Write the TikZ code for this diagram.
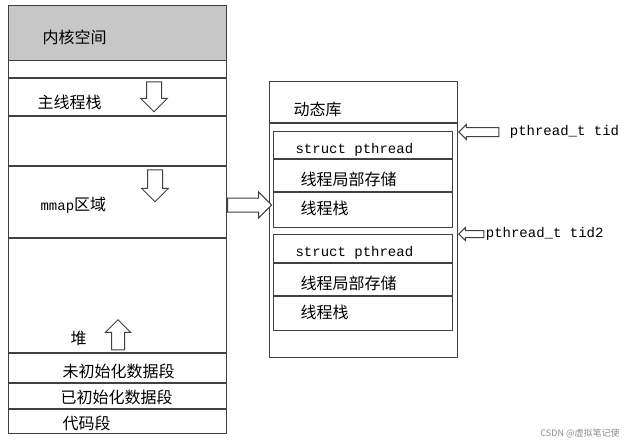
\documentclass[tikz,border=0pt]{standalone}
\usepackage{fontspec}
\setmainfont{Noto Sans CJK SC}
\setmonofont{Liberation Mono}
\usetikzlibrary{shapes.arrows, positioning}

\begin{document}
\begin{tikzpicture}[x=1pt, y=-1pt, line width=1.1pt,
    box/.style={draw=black!75, anchor=north west, inner sep=0pt},
    lbl/.style={anchor=west, inner sep=0pt, font=\fontsize{16}{18}\selectfont},
    code/.style={anchor=west, inner sep=0pt, font=\ttfamily\fontsize{14}{16}\selectfont},
    hollow/.style={single arrow, draw=black!75, fill=white, line width=1pt, inner sep=7pt,
        single arrow head extend=6pt}]
    \useasboundingbox (0,0) rectangle (643,445);
    % process address space
    \node[box, fill=black!22, minimum width=218pt, minimum height=55pt] (kernel) at (8,5) {};
    \node[box, minimum width=218pt, minimum height=428pt] (vm) at (8,5) {};
    \foreach \y in {78,116,166,238,353,383,409}
        \draw[black!75] (vm.west |- 0,\y) -- (vm.east |- 0,\y);
    \node[lbl] (k_txt) at (42,37) {内核空间};
    \node[lbl] (stack) at (37,102) {主线程栈};
    \node[lbl] (mmap) at (40,205) {{\ttfamily\fontsize{14}{16}\selectfont mmap}区域};
    \node[lbl] (heap) at (70,338) {堆};
    \node[lbl] (bss) at (62,371) {未初始化数据段};
    \node[lbl] (data) at (60,397) {已初始化数据段};
    \node[lbl] (text) at (62,423) {代码段};
    \node[hollow, shape border rotate=270, minimum height=30pt] (grow_1) at (154,93) {};
    \node[hollow, shape border rotate=270, minimum height=32pt] (grow_2) at (155,182) {};
    \node[hollow, shape border rotate=90, minimum height=30pt, inner sep=6pt] (grow_3) at (118,338) {};
    % shared library
    \node[box, minimum width=188pt, minimum height=276pt] (lib) at (269,81) {};
    \draw[black!75] (lib.west |- 0,123) -- (lib.east |- 0,123);
    \node[lbl] (lib_txt) at (293,109) {动态库};
    \node[box, minimum width=179pt, minimum height=96pt] (th_1) at (273,131) {};
    \node[box, minimum width=179pt, minimum height=96pt] (th_2) at (273,234) {};
    \foreach \y in {159,192,263,296}
        \draw[black!75] (th_1.west |- 0,\y) -- (th_1.east |- 0,\y);
    \node[code] (ps_1) at (295,150) {struct pthread};
    \node[lbl] (tls_1) at (300,179) {线程局部存储};
    \node[lbl] (ts_1) at (300,208) {线程栈};
    \node[code] (ps_2) at (295,253) {struct pthread};
    \node[lbl] (tls_2) at (300,283) {线程局部存储};
    \node[lbl] (ts_2) at (300,312) {线程栈};
    \node[hollow, anchor=tail, minimum height=44pt, inner sep=6.5pt] (link) at (vm.east |- 0,205) {};
    % thread ids
    \node[hollow, anchor=tip, shape border rotate=180, minimum height=40pt, inner sep=4pt,
        single arrow head extend=3pt] (tid_1) at (lib.east |- 0,132) {};
    \node[hollow, anchor=tip, shape border rotate=180, minimum height=25pt, inner sep=3pt,
        single arrow head extend=3pt] (tid_2) at (lib.east |- 0,234) {};
    \node[code, right=10pt of tid_1.tail] (tid_txt1) {pthread\_t tid};
    \node[code, right=1pt of tid_2.tail] (tid_txt2) {pthread\_t tid2};
    \node[text=black!45, font=\fontsize{9}{10}\selectfont] (mark) at (580,433) {CSDN @虚拟笔记使};
\end{tikzpicture}
\end{document}
